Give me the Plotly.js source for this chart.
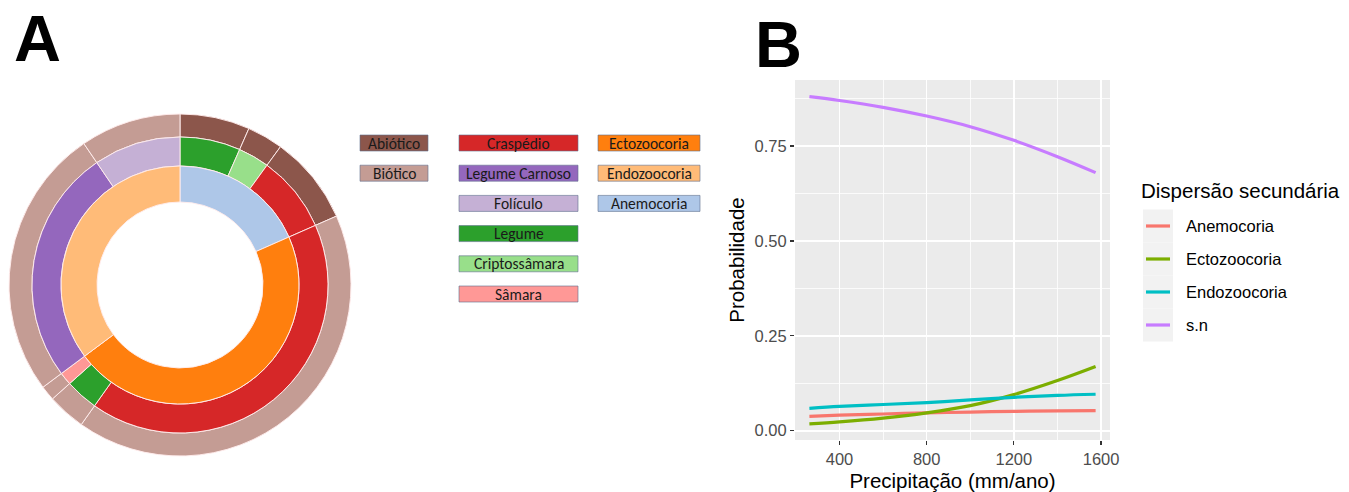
<!DOCTYPE html>
<html>
<head>
<meta charset="utf-8">
<script src="https://cdn.plot.ly/plotly-3.0.1.min.js"></script>
<style>
html,body{margin:0;padding:0;background:#fff;}
#chart{width:1349px;height:492px;}
</style>
</head>
<body>
<div id="chart"></div>
<script>
// ---------------- DATA ----------------
// Panel A: nested rings, one entry per leaf (clockwise from 12 o'clock)
const leafMode      = ['Abiótico','Abiótico','Abiótico','Biótico','Biótico','Biótico','Biótico','Biótico'];
const leafFruit     = ['Legume','Criptossâmara','Craspédio','Craspédio','Legume','Sâmara','Legume Carnoso','Folículo'];
const leafDispersal = ['Anemocoria','Anemocoria','Anemocoria','Ectozoocoria','Ectozoocoria','Ectozoocoria','Endozoocoria','Endozoocoria'];
const leafShare     = [6.6, 3.4, 8.4, 41.4, 3.6, 1.4, 25.7, 9.5];   // % (estimated)

// Panel A legend boxes (three columns)
const legendModes     = ['Abiótico','Biótico'];
const legendFruits    = ['Craspédio','Legume Carnoso','Folículo','Legume','Criptossâmara','Sâmara'];
const legendDispersal = ['Ectozoocoria','Endozoocoria','Anemocoria'];

// Panel B: predicted probability vs precipitation
const precip       = [262, 400, 600, 800, 1000, 1200, 1400, 1575];
const anemocoria   = [0.038, 0.041, 0.044, 0.047, 0.049, 0.051, 0.052, 0.053];
const ectozoocoria = [0.018, 0.023, 0.033, 0.047, 0.066, 0.095, 0.132, 0.169];
const endozoocoria = [0.059, 0.064, 0.069, 0.074, 0.081, 0.088, 0.093, 0.096];
const semDispersao = [0.880, 0.870, 0.852, 0.829, 0.801, 0.765, 0.722, 0.680];
const seriesNames  = ['Anemocoria','Ectozoocoria','Endozoocoria','s.n'];
const xTickVals    = [400, 800, 1200, 1600];
const yTickVals    = [0, 0.25, 0.5, 0.75];
const yTickLabels  = ['0.00','0.25','0.50','0.75'];

// ---------------- STYLE ----------------
const W = 1349, H = 492;
const px = x => x / W;
const py = y => 1 - y / H;

const modeColors  = {'Abiótico':'#8C564B','Biótico':'#C49C94'};
const fruitColors = {'Craspédio':'#D62728','Legume Carnoso':'#9467BD','Folículo':'#C5B0D5',
                     'Legume':'#2CA02C','Criptossâmara':'#98DF8A','Sâmara':'#FF9896'};
const dispColors  = {'Ectozoocoria':'#FF7F0E','Endozoocoria':'#FFBB78','Anemocoria':'#AEC7E8'};
const lineColors  = ['#F8766D','#7CAE00','#00BFC4','#C77CFF'];

const cx = 180, cy = 285;
const rOuter = 171, rMid = 148, rIn = 119, rHole = 83;
function ringDomain(r){ return {x:[px(cx - r), px(cx + r)], y:[py(cy + r), py(cy - r)]}; }

const leafIds = leafShare.map((v,i) => leafMode[i] + ' / ' + leafFruit[i] + ' / ' + leafDispersal[i]);
const sliceLine = {color:'rgba(255,236,236,0.95)', width:1};

function ring(labels, names, colorMap, r, hole){
  return {
    type:'pie', values: leafShare, labels: labels,
    hovertext: names, hoverinfo:'text+percent',
    marker:{colors: names.map(n => colorMap[n]), line: sliceLine},
    domain: ringDomain(r), hole: hole,
    sort:false, direction:'clockwise', rotation:0,
    textinfo:'none', showlegend:false
  };
}

const traces = [
  // outer and middle rings keep a divider at every leaf
  ring(leafIds.map(s => 'Modo: ' + s), leafMode, modeColors, rOuter, rMid / rOuter),
  ring(leafIds.map(s => 'Fruto: ' + s), leafFruit, fruitColors, rMid, rIn / rMid),
  // inner ring aggregates leaves of the same dispersal syndrome
  ring(leafDispersal, leafDispersal, dispColors, rIn, rHole / rIn)
];

const seriesData = [anemocoria, ectozoocoria, endozoocoria, semDispersao];
seriesData.forEach((ys, i) => {
  traces.push({
    type:'scatter', mode:'lines', x: precip, y: ys, name: seriesNames[i],
    line:{color: lineColors[i], width:3.2, shape:'spline', smoothing:1},
    xaxis:'x', yaxis:'y', showlegend:false
  });
});

// ---------------- ANNOTATIONS / SHAPES ----------------
const annotations = [];
const shapes = [];

annotations.push({text:'<b>A</b>', x:px(12), y:py(0), xanchor:'left', yanchor:'top',
  xref:'paper', yref:'paper', showarrow:false, font:{family:'Liberation Sans, Arial', size:65, color:'#000'}});
annotations.push({text:'<b>B</b>', x:px(753), y:py(6), xanchor:'left', yanchor:'top',
  xref:'paper', yref:'paper', showarrow:false, font:{family:'Liberation Sans, Arial', size:65, color:'#000'}});

function legendBox(label, color, x0, x1, yTop){
  const h = 16;
  shapes.push({type:'rect', xref:'paper', yref:'paper', x0:px(x0), x1:px(x1), y0:py(yTop + h), y1:py(yTop),
    fillcolor:color, line:{color:'rgba(95,110,140,0.6)', width:1}, layer:'above'});
  annotations.push({text:label, x:px((x0 + x1) / 2), y:py(yTop + h / 2), xanchor:'center', yanchor:'middle',
    xref:'paper', yref:'paper', showarrow:false, font:{family:'Carlito, Lato, sans-serif', size:15.5, color:'#1a1a1a'}});
}
legendModes.forEach((n,i) => legendBox(n, modeColors[n], 360, 428, 135 + 30.2 * i));
legendFruits.forEach((n,i) => legendBox(n, fruitColors[n], 459, 578, 135 + 30.2 * i));
legendDispersal.forEach((n,i) => legendBox(n, dispColors[n], 598, 700, 135 + 30.2 * i));

// Panel B legend
annotations.push({text:'Dispersão secundária', x:px(1139), y:py(190), xanchor:'left', yanchor:'middle',
  xref:'paper', yref:'paper', showarrow:false, font:{family:'Liberation Sans, Arial', size:20.5, color:'#000'}});
seriesNames.forEach((n,i) => {
  const yc = 226 + 33 * i;
  shapes.push({type:'rect', xref:'paper', yref:'paper', x0:px(1143), x1:px(1173), y0:py(yc + 16.5), y1:py(yc - 16.5),
    fillcolor:'#F2F2F2', line:{width:0}});
  shapes.push({type:'line', xref:'paper', yref:'paper', x0:px(1146), x1:px(1170), y0:py(yc), y1:py(yc),
    line:{color:lineColors[i], width:3.2}});
  annotations.push({text:n, x:px(1184), y:py(yc), xanchor:'left', yanchor:'middle',
    xref:'paper', yref:'paper', showarrow:false, font:{family:'Liberation Sans, Arial', size:16.5, color:'#000'}});
});

const axisFont = {family:'Liberation Sans, Arial', size:16.5, color:'#4D4D4D'};
const layout = {
  width:W, height:H, margin:{l:0, r:0, t:0, b:0},
  paper_bgcolor:'#fff', plot_bgcolor:'#EBEBEB',
  showlegend:false,
  xaxis:{domain:[px(795), px(1110)], range:[196, 1641], tickmode:'array', tickvals:xTickVals,
    ticks:'outside', ticklen:4, tickwidth:1.2, tickcolor:'#333', tickfont:axisFont,
    showgrid:true, gridcolor:'#fff', gridwidth:1.6, zeroline:false, showline:false,
    minor:{dtick:200, tick0:0, showgrid:true, gridcolor:'#fff', gridwidth:0.8, ticks:''},
    title:{text:'Precipitação (mm/ano)', font:{family:'Liberation Sans, Arial', size:20.5, color:'#000'}},
    anchor:'y', fixedrange:true},
  yaxis:{domain:[py(440), py(80)], range:[-0.0245, 0.924], tickmode:'array', tickvals:yTickVals, ticktext:yTickLabels,
    ticks:'outside', ticklen:4, tickwidth:1.2, tickcolor:'#333', tickfont:axisFont,
    showgrid:true, gridcolor:'#fff', gridwidth:1.6, zeroline:false, showline:false,
    minor:{dtick:0.125, tick0:0, showgrid:true, gridcolor:'#fff', gridwidth:0.8, ticks:''},
    title:{text:'Probabilidade', font:{family:'Liberation Sans, Arial', size:20.5, color:'#000'}},
    anchor:'x', fixedrange:true},
  annotations: annotations,
  shapes: shapes
};

Plotly.newPlot('chart', traces, layout, {displayModeBar:false, staticPlot:true});
</script>
</body>
</html>
